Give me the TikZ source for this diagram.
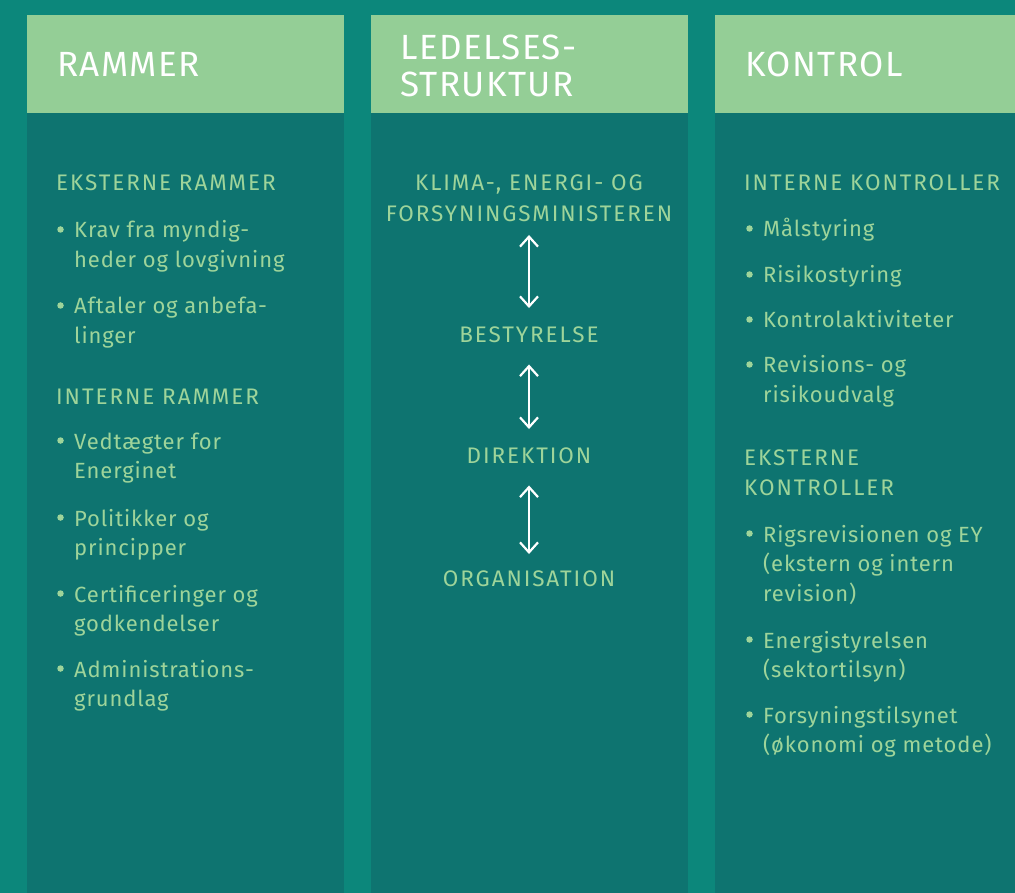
\documentclass[tikz,border=0pt]{standalone}
\usepackage{fontspec}
\setmainfont{Fira Sans}
\newfontfamily\txtfont[LetterSpace=4]{Fira Sans}
\newfontfamily\capfont[LetterSpace=8.5]{Fira Sans}
\usetikzlibrary{arrows.meta}
\definecolor{bgTeal}{HTML}{0C877B}
\definecolor{colTeal}{HTML}{0E7470}
\definecolor{headGreen}{HTML}{94CE96}
\definecolor{txtGreen}{HTML}{9ED49A}
\begin{document}
\begin{tikzpicture}[x=1pt,y=-1pt]
  \tikzstyle{myHead}=[anchor=base west,inner sep=0pt,align=left,text=white,
    font=\txtfont\fontsize{35}{37}\selectfont];
  \tikzstyle{myTxt}=[anchor=base west,inner sep=0pt,align=left,text=txtGreen,
    font=\txtfont\fontsize{22}{29.5}\selectfont];
  \tikzstyle{myCap}=[myTxt,font=\capfont\fontsize{22.5}{30.5}\selectfont];
  \tikzstyle{myMid}=[myCap,anchor=base,align=center];
  \tikzstyle{myDot}=[circle,fill=txtGreen,inner sep=0pt,minimum size=6.5pt];
  \tikzstyle{myArrow}=[draw=white,line width=2.2pt,{Straight Barb[length=10pt,width=18pt]}-{Straight Barb[length=10pt,width=18pt]}];
  \useasboundingbox (0,0) rectangle (1015,893);
  \fill[bgTeal] (0,0) rectangle (1015,893);
  % the three columns
  \foreach \x/\w in {27/317,371/317,715/300}{
    \fill[colTeal] (\x,113) rectangle ++(\w,780);
    \fill[headGreen] (\x,15) rectangle ++(\w,98);
  }
  % (multi-line nodes sit on their last line)
  \node[myHead] (hRam) at (57,77) {RAMMER};
  \node[myHead] (hLed) at (400,97) {LEDELSES-\\STRUKTUR};
  \node[myHead] (hKon) at (745,77) {KONTROL};
  % rammer
  \node[myCap] (eksR) at (56,191) {EKSTERNE RAMMER};
  \node[myDot] (d1) at (60.5,229.5) {};
  \node[myTxt] (krav) at (74,267.5) {Krav fra myndig-\\heder og lovgivning};
  \node[myDot] (d2) at (60.5,305.5) {};
  \node[myTxt] (aft) at (74,343.5) {Aftaler og anbefa-\\linger};
  \node[myCap] (intR) at (56,404) {INTERNE RAMMER};
  \node[myDot] (d3) at (60.5,440.5) {};
  \node[myTxt] (vedt) at (74,478.5) {Vedtægter for\\Energinet};
  \node[myDot] (d4) at (60.5,517.5) {};
  \node[myTxt] (pol) at (74,555.5) {Politikker og\\principper};
  \node[myDot] (d5) at (60.5,593.5) {};
  \node[myTxt] (cert) at (74,631.5) {Certificeringer og\\godkendelser};
  \node[myDot] (d6) at (60.5,668.5) {};
  \node[myTxt] (adm) at (74,706.5) {Administrations-\\grundlag};
  % ledelsesstruktur
  \node[myMid] (klima) at (529,221.5) {KLIMA-, ENERGI- OG\\FORSYNINGSMINISTEREN};
  \node[myMid] (best) at (529,342) {BESTYRELSE};
  \node[myMid] (dir) at (529,463) {DIREKTION};
  \node[myMid] (org) at (529,586) {ORGANISATION};
  \draw[myArrow,shorten <=13pt,shorten >=18pt] (klima.south) -- (best.north);
  \draw[myArrow,shorten <=22pt,shorten >=18pt] (best.south) -- (dir.north);
  \draw[myArrow,shorten <=22pt,shorten >=16pt] (dir.south) -- (org.north);
  % kontrol
  \node[myCap] (intK) at (744,191) {INTERNE KONTROLLER};
  \node[myDot] (k1) at (749.5,228.5) {};
  \node[myTxt] (maal) at (763,237) {Målstyring};
  \node[myDot] (k2) at (749.5,274.5) {};
  \node[myTxt] (risk) at (763,283) {Risikostyring};
  \node[myDot] (k3) at (749.5,319.5) {};
  \node[myTxt] (ktrl) at (763,328) {Kontrolaktiviteter};
  \node[myDot] (k4) at (749.5,364.5) {};
  \node[myTxt] (rev) at (763,402.5) {Revisions- og\\risikoudvalg};
  \node[myCap] (eksK) at (744,495.5) {EKSTERNE\\KONTROLLER};
  \node[myDot] (k5) at (749.5,533.5) {};
  \node[myTxt] (rigs) at (763,601) {Rigsrevisionen og EY\\(ekstern og intern\\revision)};
  \node[myDot] (k6) at (749.5,639.5) {};
  \node[myTxt] (ens) at (763,677.5) {Energistyrelsen\\(sektortilsyn)};
  \node[myDot] (k7) at (749.5,714.5) {};
  \node[myTxt] (fors) at (763,752.5) {Forsyningstilsynet\\(økonomi og metode)};
\end{tikzpicture}
\end{document}
